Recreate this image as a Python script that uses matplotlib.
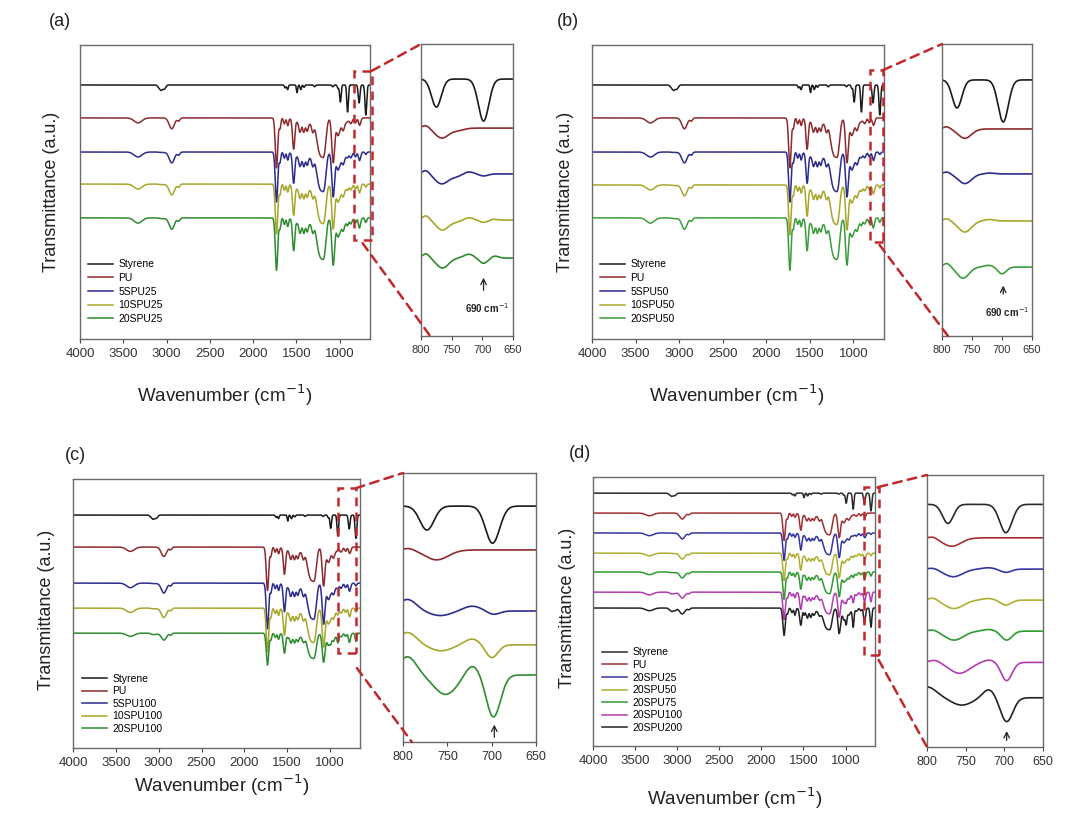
import numpy as np
import matplotlib.pyplot as plt
from matplotlib.patches import Rectangle, ConnectionPatch

plt.rcParams['font.family'] = ['Liberation Sans', 'DejaVu Sans']

W, H = 1087, 824

# absorption bands: (wavenumber, width, depth)
styrene_bands = [(3082, 18, 1.0), (3060, 14, 1.2), (3027, 16, 1.4), (1630, 9, 1.0),
                 (1602, 8, 1.6), (1493, 7, 2.6), (1450, 8, 1.6), (1412, 8, 0.8),
                 (1290, 9, 0.6), (1080, 9, 0.6), (1020, 8, 1.2), (992, 9, 5.8),
                 (909, 9, 9.2), (776, 10, 6.1), (698, 10, 10.2)]
pu_bands = [(3330, 45, 1.7), (2940, 30, 3.7), (2860, 14, 1.0), (1730, 14, 17.0),
            (1690, 10, 3.5), (1640, 10, 2.0), (1600, 10, 2.5), (1532, 13, 10.0),
            (1460, 13, 3.0), (1415, 11, 2.5), (1375, 11, 2.2), (1400, 80, 2.5),
            (1310, 14, 3.5), (1260, 20, 5.0), (1222, 24, 10.5), (1178, 22, 10.5),
            (1075, 16, 14.5), (1020, 18, 4.0), (980, 60, 2.5), (960, 13, 2.0),
            (870, 13, 1.5), (818, 11, 1.6), (770, 13, 2.5)]

# panel (a)
names_a = ['Styrene', 'PU', '5SPU25', '10SPU25', '20SPU25']
colors_a = ['#1a1a1a', '#8c2a2e', '#2c2c8c', '#a8a62a', '#2e8b2e']
base_a = [86.4, 75.2, 63.6, 52.7, 41.2]
pu_a = [0, 1.0, 1.0, 1.0, 1.05]
sty_a = [1.0, 0, 0.08, 0.1, 0.15]
inset_base_a = [88.0, 71.2, 55.5, 39.7, 26.7]
inset_a = [[(775, 8, 9.6), (698, 8.5, 14.4)],
           [(792, 6, -1.0), (766, 11, 3.4), (740, 10, 0.8)],
           [(792, 6, -1.3), (766, 11, 3.4), (742, 8, 0.8), (722, 8, -0.7), (698, 7, 0.7)],
           [(792, 6, -1.5), (765, 10, 3.4), (742, 8, 0.6), (722, 8, -0.8), (698, 7, 0.8), (682, 6, -0.3)],
           [(792, 6, -1.5), (765, 10, 3.4), (722, 8, -1.3), (698, 7, 1.8), (680, 6, -0.7)]]

# panel (b)
names_b = ['Styrene', 'PU', '5SPU50', '10SPU50', '20SPU50']
colors_b = ['#1a1a1a', '#8c2a2e', '#2c2c8c', '#a8a62a', '#3c9c3c']
base_b = [86.4, 75.2, 63.6, 52.4, 41.2]
pu_b = [0, 1.0, 1.0, 1.0, 1.05]
sty_b = [1.0, 0, 0.08, 0.1, 0.15]
inset_base_b = [87.7, 70.9, 55.5, 39.4, 23.6]
inset_b = [[(775, 8, 9.6), (698, 8.5, 14.4)],
           [(792, 6, -0.8), (762, 11, 3.2)],
           [(792, 6, -0.7), (762, 11, 3.3), (720, 8, -0.3)],
           [(792, 6, -0.8), (762, 11, 3.8), (722, 8, -0.5)],
           [(792, 6, -1.3), (765, 10, 3.8), (722, 8, -0.6), (700, 7, 2.3)]]

# panel (c)
names_c = ['Styrene', 'PU', '5SPU100', '10SPU100', '20SPU100']
colors_c = ['#1a1a1a', '#8c2a2e', '#2c2c8c', '#a8a62a', '#2e8b2e']
base_c = [86.6, 74.7, 61.3, 52.0, 42.7]
pu_c = [0, 0.95, 1.0, 0.95, 0.7]
sty_c = [0.85, 0, 0.1, 0.15, 0.3]
inset_base_c = [87.7, 71.4, 48.7, 36.1, 24.9]
inset_c = [[(773, 8, 8.9), (699, 8, 13.8)],
           [(793, 6, -0.7), (762, 13, 3.7)],
           [(795, 10, -4.3), (758, 12, 1.7), (722, 10, -1.8), (698, 7, 1.3)],
           [(795, 10, -4.6), (757, 12, 2.2), (722, 9, -2.2), (700, 7, 4.8)],
           [(795, 10, -6.8), (752, 13, 7.2), (722, 8, -3.8), (698, 8, 15.6)]]

# panel (d)
names_d = ['Styrene', 'PU', '20SPU25', '20SPU50', '20SPU75', '20SPU100', '20SPU200']
colors_d = ['#2a2a2a', '#a03034', '#3535a0', '#b0ae30', '#2f9a2f', '#b03cb0', '#222222']
base_d = [94.0, 86.6, 79.2, 71.7, 64.7, 57.2, 51.3]
pu_d = [0, 0.6, 0.6, 0.6, 0.6, 0.6, 0.6]
sty_d = [0.65, 0, 0.05, 0.1, 0.15, 0.35, 0.7]
inset_base_d = [89.2, 76.9, 65.4, 54.0, 42.6, 31.1, 18.1]
inset_d = [[(773, 7, 7.0), (698, 8, 10.4)],
           [(792, 5, -0.6), (768, 12, 3.1)],
           [(792, 6, -0.5), (766, 12, 2.8), (721, 8, -0.5), (698, 7, 1.2)],
           [(792, 6, -0.9), (765, 12, 3.1), (721, 8, -0.6), (698, 7, 1.8)],
           [(792, 6, -0.6), (765, 12, 3.3), (720, 8, -0.6), (697, 7, 3.3)],
           [(790, 7, -0.9), (758, 13, 4.0), (720, 8, -0.9), (697, 7, 6.7)],
           [(800, 12, -4.0), (755, 13, 2.7), (720, 8, -3.1), (697, 8, 8.8)]]

wn = np.linspace(4000, 600, 6000)
wn_in = np.linspace(800, 650, 800)


def spectrum(x, bands, scale=1.0):
    y = np.zeros_like(x)
    for c, s, d in bands:
        y -= scale * d * np.exp(-(x - c) ** 2 / (2 * s ** 2))
    return y


def px_axes(l, t, r, b):
    return fig.add_axes([l / W, 1 - b / H, (r - l) / W, (b - t) / H])


def style(ax, ticks, size):
    ax.set_ylim(0, 100)
    ax.set_yticks([])
    ax.set_xticks(ticks)
    ax.tick_params(axis='x', direction='out', length=3, labelsize=size,
                   colors='#444444', labelcolor='#333333')
    for sp in ax.spines.values():
        sp.set_color('#6a6a6a')
        sp.set_linewidth(1.0)


fig = plt.figure(figsize=(W / 100, H / 100), dpi=100)

panels = [
    dict(lbl='(a)', main=(80, 45, 370, 339), ins=(421, 44, 513, 336),
         names=names_a, colors=colors_a, base=base_a, pu=pu_a, sty=sty_a,
         ibase=inset_base_a, iband=inset_a, rect=(630, 830, 33.7, 91.2),
         top=(630, 91.2), bot=(736, 32.6), botB=(785, 0),
         arrow=(698, 14.7, 20.9), note=(692, 9.6), leg=(88, 324, 0.35),
         plabel=(60, 22), ylab=(52, 192), xlab=(225, 395), isize=8),
    dict(lbl='(b)', main=(592, 45, 884, 339), ins=(942, 44, 1032, 336),
         names=names_b, colors=colors_b, base=base_b, pu=pu_b, sty=sty_b,
         ibase=inset_base_b, iband=inset_b, rect=(659, 805, 33.0, 91.5),
         top=(659, 91.5), bot=(701, 32.0), botB=(790, 0),
         arrow=(698, 13.4, 18.2), note=(692, 8.2), leg=(600, 324, 0.35),
         plabel=(568, 22), ylab=(565, 192), xlab=(737, 395), isize=8),
    dict(lbl='(c)', main=(73, 479, 360, 748), ins=(403, 473, 536, 742),
         names=names_c, colors=colors_c, base=base_c, pu=pu_c, sty=sty_c,
         ibase=inset_base_c, iband=inset_c, rect=(698, 908, 35.3, 96.6),
         top=(698, 96.6), bot=(686, 29.7), botB=(790, 0),
         arrow=(697, 0.7, 7.5), note=None, leg=(82, 734, 0.25),
         plabel=(75, 455), ylab=(47, 610), xlab=(222, 785), isize=9),
    dict(lbl='(d)', main=(593, 477, 875, 746), ins=(927, 475, 1043, 747),
         names=names_d, colors=colors_d, base=base_d, pu=pu_d, sty=sty_d,
         ibase=inset_base_d, iband=inset_d, rect=(607, 786, 33.8, 96.3),
         top=(607, 96.3), bot=(607, 32.0), botB=(800, 0),
         arrow=(697, 1.4, 6.9), note=None, leg=(602, 733, 0.25),
         plabel=(580, 453), ylab=(567, 608), xlab=(735, 798), isize=9),
]

for p in panels:
    ax = px_axes(*p['main'])
    for i, name in enumerate(p['names']):
        y = (p['base'][i] + spectrum(wn, pu_bands, p['pu'][i])
             + spectrum(wn, styrene_bands, p['sty'][i]))
        ax.plot(wn, y, color=p['colors'][i], lw=1.1, label=name)
    ax.set_xlim(4000, 650)
    style(ax, [4000, 3500, 3000, 2500, 2000, 1500, 1000], 9.5)

    l, t, r, b = p['main']
    lx, ly, sp = p['leg']
    ax.legend(loc='lower left', bbox_to_anchor=((lx - l) / (r - l), (b - ly) / (b - t)),
              frameon=False, fontsize=7.5, handlelength=2.4, handletextpad=0.5,
              labelspacing=sp, borderpad=0, borderaxespad=0)

    x0, x1, y0, y1 = p['rect']
    ax.add_patch(Rectangle((x0, y0), x1 - x0, y1 - y0, fill=False, ec='#c0282d',
                           lw=1.8, ls=(0, (3.5, 2.5)), clip_on=False, zorder=5))

    ins = px_axes(*p['ins'])
    for i, bands in enumerate(p['iband']):
        ins.plot(wn_in, p['ibase'][i] + spectrum(wn_in, bands),
                 color=p['colors'][i], lw=1.2)
    ins.set_xlim(800, 650)
    style(ins, [800, 750, 700, 650], p['isize'])

    ax_x, ay0, ay1 = p['arrow']
    ins.annotate('', xy=(ax_x, ay1), xytext=(ax_x, ay0),
                 arrowprops=dict(arrowstyle='->', color='#222222', lw=0.9))
    if p['note']:
        ins.text(p['note'][0], p['note'][1], '690 cm$^{-1}$', fontsize=7,
                 fontweight='bold', ha='center', va='center', color='#222222')

    for xyA, xyB in [(p['top'], (800, 100)), (p['bot'], p['botB'])]:
        con = ConnectionPatch(xyA=xyA, xyB=xyB, coordsA=ax.transData,
                              coordsB=ins.transData, color='#c0282d', lw=1.8,
                              ls=(0, (3.5, 2.5)))
        fig.add_artist(con)

    fig.text(p['plabel'][0] / W, 1 - p['plabel'][1] / H, p['lbl'], fontsize=13,
             ha='center', va='center', color='#222222')
    fig.text(p['ylab'][0] / W, 1 - p['ylab'][1] / H, 'Transmittance (a.u.)',
             fontsize=13, rotation=90, ha='center', va='center', color='#222222')
    fig.text(p['xlab'][0] / W, 1 - p['xlab'][1] / H, 'Wavenumber (cm$^{-1}$)',
             fontsize=13.5, ha='center', va='center', color='#222222')

fig.savefig('out.png', dpi=100)
